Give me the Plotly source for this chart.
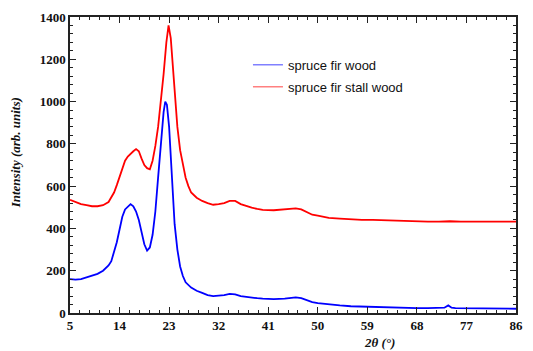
import plotly.graph_objects as go

# 2θ positions (degrees) and intensities
x_wood = [5, 6, 7, 8, 9, 10, 11, 12, 12.5, 13, 13.5, 14, 14.5, 15, 15.5, 16, 16.5, 17, 17.5, 18,
          18.5, 19, 19.5, 20, 20.5, 21, 21.5, 22, 22.3, 22.6, 23, 23.5, 24, 24.5, 25, 25.5, 26,
          27, 28, 29, 30, 31, 32, 33, 34, 35, 36, 37, 38, 39, 40, 42, 44, 45, 46, 47, 48, 49,
          50, 52, 54, 56, 58, 60, 62, 64, 66, 68, 70, 72, 73, 73.7, 74.3, 75, 77, 80, 83, 86]
y_wood = [160, 158, 160, 168, 175, 185, 200, 225, 245, 285, 335, 395, 455, 490, 505, 515, 505, 480, 440, 380,
          325, 295, 310, 370, 480, 640, 800, 950, 1000, 985, 880, 620, 420, 300, 220, 175, 145,
          120, 105, 95, 85, 80, 82, 85, 90, 88, 80, 76, 72, 70, 68, 66, 68, 72, 74, 70, 60, 52,
          47, 40, 36, 32, 30, 28, 27, 25, 24, 23, 23, 23, 25, 36, 25, 23, 22, 21, 20, 20]

x_stall = [5, 6, 7, 8, 9, 10, 11, 12, 12.5, 13, 13.5, 14, 14.5, 15, 15.5, 16, 16.5, 17, 17.5, 18,
           18.5, 19, 19.5, 20, 20.5, 21, 21.5, 22, 22.5, 22.9, 23.3, 23.7, 24, 24.5, 25, 25.5, 26,
           26.5, 27, 28, 29, 30, 31, 32, 33, 34, 35, 36, 37, 38, 39, 40, 42, 44, 45, 46, 47, 48,
           49, 50, 52, 54, 56, 58, 60, 62, 64, 66, 68, 70, 72, 74, 76, 78, 80, 83, 86]
y_stall = [535, 525, 515, 510, 505, 505, 510, 525, 545, 570, 605, 645, 690, 720, 740, 755, 765, 775, 765, 730,
           700, 685, 680, 720, 790, 880, 1000, 1130, 1280, 1360, 1300, 1150, 1030, 880, 770, 700, 640,
           600, 570, 545, 530, 520, 512, 515, 520, 530, 530, 515, 505, 498, 492, 488, 486, 490, 495, 495, 490, 478,
           465, 460, 450, 446, 442, 440, 440, 438, 435, 434, 433, 432, 432, 434, 432, 432, 431, 431, 432]

x_ticks = [5, 14, 23, 32, 41, 50, 59, 68, 77, 86]
y_ticks = [0, 200, 400, 600, 800, 1000, 1200, 1400]

series_names = ["spruce fir wood", "spruce fir stall wood"]
line_colors = ["#0000ff", "#ff0000"]
legend_colors = ["#8080ff", "#ff8080"]

fig = go.Figure()
for xs, ys, name, col, lcol in zip([x_wood, x_stall], [y_wood, y_stall], series_names, line_colors, legend_colors):
    fig.add_trace(go.Scatter(x=xs, y=ys, mode="lines", name=name, legendgroup=name,
                             line=dict(color=col, width=1.8), showlegend=False))
    fig.add_trace(go.Scatter(x=[None], y=[None], mode="lines", name=name, legendgroup=name,
                             line=dict(color=lcol, width=1.5), showlegend=True))

tickfont = dict(family="Liberation Serif", size=13, color="#111111", weight="bold")
axis_common = dict(showgrid=False, zeroline=False, showline=True, linecolor="#222222", linewidth=1.5,
                   ticks="inside", ticklen=6, tickwidth=1.2, tickcolor="#222222", mirror="ticks",
                   tickfont=tickfont)

fig.update_xaxes(range=[5, 86], tickvals=x_ticks, ticktext=[str(v) for v in x_ticks],
                 minor=dict(dtick=1.8, tick0=5, ticks="inside", ticklen=3, tickcolor="#222222", showgrid=False),
                 **axis_common)
fig.update_yaxes(range=[0, 1400], tickvals=y_ticks, ticktext=[str(v) for v in y_ticks],
                 minor=dict(dtick=40, tick0=0, ticks="inside", ticklen=3, tickcolor="#222222", showgrid=False),
                 **axis_common)

fig.add_annotation(text="<b><i>2θ (°)</i></b>", xref="paper", yref="paper", x=0.695, y=-0.098,
                   yanchor="middle", xanchor="center", showarrow=False,
                   font=dict(family="Liberation Serif", size=13, color="#111111"))
fig.add_annotation(text="<b><i>Intensity (arb. units)</i></b>", xref="paper", yref="paper",
                   x=-0.123, y=0.54, textangle=-90, xanchor="center", yanchor="middle", showarrow=False,
                   font=dict(family="Liberation Serif", size=13, color="#111111"))

fig.update_layout(
    width=533, height=351,
    margin=dict(l=70, r=10, t=17, b=38),
    paper_bgcolor="white", plot_bgcolor="white",
    legend=dict(x=0.399, y=0.889, xanchor="left", yanchor="top", bgcolor="rgba(0,0,0,0)",
                font=dict(family="Liberation Sans", size=13, color="#111111"), itemwidth=30,
                tracegroupgap=2),
    showlegend=True,
)

fig.write_html("out.html")
